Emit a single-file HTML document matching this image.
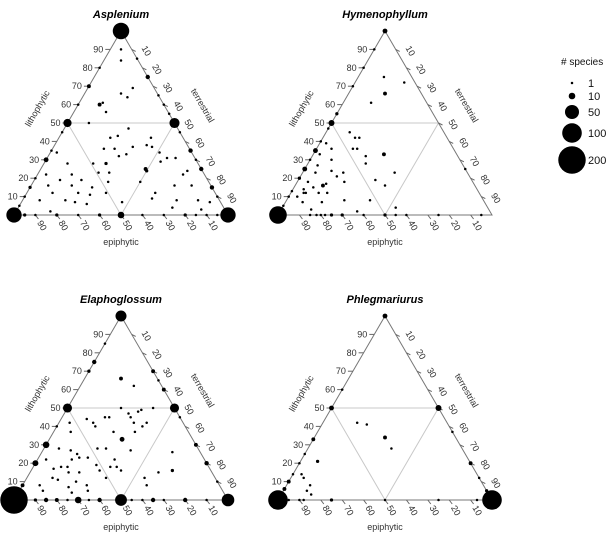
<!DOCTYPE html>
<html><head><meta charset="utf-8"><style>
body{margin:0;background:#fff}
svg{display:block;font-family:"Liberation Sans",sans-serif}
</style></head><body>
<svg id="chart" width="616" height="533" viewBox="0 0 616 533"></svg>
<script>
// data: [lithophytic %, terrestrial %, number of species]; epiphytic = 100 - lith - terr
const panelNames = ["Asplenium","Hymenophyllum","Elaphoglossum","Phlegmariurus"];
const aspleniumPoints = [[100,0,70],[0,0,60],[0,100,60],[50,0,16],[50,50,25],[0,50,10],
[90,5,1],[84,8,1],[66,17,1],[69,21,1],[64,21,1],[60,10,3],[56,15,1],[61,11,1],[50,10,1],
[47,30,1],[42,24,1],[43,27,1],[42,43,1],[37,37,1],[36,24,1],[36,29,1],[38,43,1],[37,46,1],[33,36,1],[32,33,1],
[28,23,1],[28,29,2],[23,33,1],[23,28,1],[18,35,1],[12,37,1],[7,47,1],[25,49,3],[24,50,2],[34,51,1],[29,54,1],
[31,56,1],[31,60,1],[18,50,1],[12,60,1],[16,67,1],[8,72,1],[16,75,1],[8,82,1],[7,88,1],[4,72,1],[3,86,1],[9,60,1],
[22,68,1],[24,69,1],[22,4,1],[34,3,1],[28,11,1],[22,16,1],[19,12,1],[16,19,1],[19,22,1],[12,24,1],[12,12,1],
[16,8,1],[8,20,1],[7,25,1],[11,30,1],[8,8,1],[2,16,1],[6,31,1],[15,29,1],
[0,5,2],[0,10,1],[0,20,2],[0,30,1],[0,40,2],[0,60,1],[0,70,1],[0,80,2],[0,85,1],[0,90,1],[0,95,1],
[5,0,1],[10,0,1],[15,0,2],[20,0,1],[30,0,5],[35,0,1],[45,0,1],[60,0,1],[70,0,3],[80,0,1],
[85,15,1],[75,25,4],[65,35,1],[60,40,1],[55,45,1],[45,55,1],[35,65,4],[30,70,1],[25,75,4],[15,85,4],[10,90,1]];
const hymenophyllumPoints = [[0,0,80],[100,0,5],[50,0,8],[0,50,2],
[75,12,1],[72,23,1],[66,17,3],[61,13,1],[45,11,1],[42,15,1],[42,17,1],[36,17,1],[36,19,1],[32,25,1],[28,27,1],
[33,33,3],[19,36,1],[16,42,1],[23,43,1],[8,39,1],[2,36,1],[4,53,1],[8,27,1],[18,22,1],[23,19,1],[21,17,1],
[36,7,1],[30,10,1],[24,13,1],[17,14,1],[16,13,3],[12,17,1],[7,17,1],[12,13,1],[15,9,1],[18,5,1],[23,6,1],[27,5,1],
[33,3,1],[39,3,1],[12,6,1],[7,8,1],[10,4,1],[3,14,1],[14,5,1],[12,7,1],
[5,0,1],[10,0,1],[13,0,1],[20,0,2],[25,0,5],[30,0,1],[35,0,5],[40,0,1],[47,0,1],[55,0,2],[70,0,1],[80,0,1],[90,0,1],
[0,15,1],[0,18,1],[0,20,1],[0,22,1],[0,25,2],[0,30,2],[0,40,1],[0,55,1],[0,60,1],[0,75,1],[0,95,1],[25,75,1]];
const elaphoglossumPoints = [[0,0,200],[100,0,30],[50,0,20],[50,50,20],[0,50,35],[0,100,40],[20,0,8],[30,0,10],[0,30,10],
[66,17,3],[62,25,1],[49,35,1],[48,34,1],[47,30,1],[45,32,1],[42,35,1],[42,41,1],[40,40,1],[37,38,1],[33,34,5],
[27,41,1],[37,28,1],[28,29,1],[22,36,1],[18,39,1],[16,42,1],[18,36,1],[45,20,1],[45,22,1],[42,16,1],[40,18,1],
[44,12,1],[42,5,1],[37,8,1],[28,7,1],[27,13,1],[25,17,1],[23,19,1],[23,23,1],[28,25,1],[19,29,1],[22,16,1],
[18,16,1],[15,18,1],[15,23,1],[18,13,1],[17,10,1],[22,4,1],[12,12,1],[11,15,1],[7,22,1],[4,25,1],[5,32,1],[8,30,1],
[10,24,1],[8,8,1],[5,11,1],[16,32,1],[12,37,1],[26,61,1],[16,66,2],[15,60,1],[12,55,1],[8,58,1],[50,25,1],[50,40,1],
[0,5,1],[0,10,2],[0,15,4],[0,20,3],[0,25,1],[0,35,1],[0,40,4],[0,55,1],[0,60,1],[0,65,4],[0,70,1],[0,80,4],[0,90,1],
[5,0,1],[8,0,3],[40,0,1],[70,0,2],[75,0,4],[85,0,1],
[70,30,3],[65,35,1],[60,40,3],[45,55,1],[30,70,3],[20,80,4],[10,90,1]];
const phlegmariurusPoints = [[0,0,100],[0,100,100],[100,0,5],[50,0,5],[50,50,8],[0,50,1],
[42,16,1],[41,21,1],[34,33,3],[28,39,1],[21,8,2],[14,4,1],[12,6,1],[8,11,1],[5,11,1],[3,14,1],
[3,0,1],[6,0,3],[10,0,3],[14,0,1],[20,0,1],[25,0,1],[33,0,3],[60,0,1],
[0,5,1],[0,10,1],[0,12,1],[0,25,2],[0,75,1],[0,93,1],
[37,63,1],[20,80,3],[12,88,1],[5,95,2]];
const tickValues = [10,20,30,40,50,60,70,80,90];
const legendCounts = [1,10,50,100,200];

const NS="http://www.w3.org/2000/svg";
const svg=document.getElementById('chart');
function mk(tag,attrs,parent){const e=document.createElementNS(NS,tag);for(const k in attrs)e.setAttribute(k,attrs[k]);(parent||svg).appendChild(e);return e;}
function radius(n){return Math.sqrt(n)*0.95+0.3;}

const W=214,H=184;
const panels=[{left:14,base:215,pts:aspleniumPoints},{left:278,base:215,pts:hymenophyllumPoints},
{left:14,base:500,pts:elaphoglossumPoints},{left:278,base:500,pts:phlegmariurusPoints}];

panels.forEach((p,i)=>{
  const g=mk('g',{});
  
  
  const X=(L,T)=>p.left+W*(T+L/2)/100;
  const Y=(L)=>p.base-H*L/100;
  const t=mk('text',{x:p.left+W/2,y:p.base-197,'text-anchor':'middle','font-size':'11','font-weight':'bold','font-style':'italic'},g);
  t.textContent=panelNames[i];
  
  
  const inner=mk('polygon',{points:`${X(50,0)},${Y(50)} ${X(50,50)},${Y(50)} ${X(0,50)},${Y(0)}`,fill:'none',stroke:'#c8c8c8','stroke-width':'1'},g);
  
  
  const outer=mk('polygon',{points:`${X(0,0)},${Y(0)} ${X(100,0)},${Y(100)} ${X(0,100)},${Y(0)}`,fill:'none',stroke:'#777','stroke-width':'1'},g);
  
  
  tickValues.forEach(v=>{
    let x=X(v,0),y=Y(v);
    mk('line',{x1:x,y1:y,x2:x-5,y2:y,stroke:'#666'},g);
    let tl=mk('text',{x:x-7,y:y+3,'text-anchor':'end','font-size':'9',fill:'#333'},g);
    tl.textContent=v;
    
    
    x=X(100-v,v);y=Y(100-v);
    mk('line',{x1:x,y1:y,x2:x+4,y2:y+2,stroke:'#666'},g);
    let tr=mk('text',{x:x+12,y:y+3,'text-anchor':'middle','font-size':'9',fill:'#333',transform:`rotate(60 ${x+12} ${y+3})`},g);
    tr.textContent=v;
    
    
    x=X(0,100-v);y=Y(0);
    mk('line',{x1:x,y1:y,x2:x+3,y2:y+4,stroke:'#666'},g);
    let tb=mk('text',{x:x+4,y:y+12,'text-anchor':'middle','font-size':'9',fill:'#333',transform:`rotate(60 ${x+4} ${y+12})`},g);
    tb.textContent=v;
    
    
  });
  let a=mk('text',{x:p.left+26,y:p.base-105,'text-anchor':'middle','font-size':'9',fill:'#333',transform:`rotate(-60 ${p.left+26} ${p.base-105})`},g);
  a.textContent='lithophytic';
  
  
  a=mk('text',{x:p.left+186,y:p.base-108,'text-anchor':'middle','font-size':'9',fill:'#333',transform:`rotate(60 ${p.left+186} ${p.base-108})`},g);
  a.textContent='terrestrial';
  
  
  a=mk('text',{x:p.left+W/2,y:p.base+30,'text-anchor':'middle','font-size':'9',fill:'#333'},g);
  a.textContent='epiphytic';
  
  
  p.pts.forEach(d=>{
    const c=mk('circle',{cx:X(d[0],d[1]),cy:Y(d[0]),r:radius(d[2]),fill:'#000'},g);
    
    
  });
});

const lg=mk('g',{});


const lt=mk('text',{x:561,y:65,'font-size':'10',fill:'#111'},lg);
lt.textContent='# species';


const legY=[83,96,112,133,160];
legendCounts.forEach((n,i)=>{
  const c=mk('circle',{cx:572,cy:legY[i],r:radius(n),fill:'#000'},lg);
  
  
  const tx=mk('text',{x:588,y:legY[i]+4,'font-size':'11',fill:'#111'},lg);
  tx.textContent=n;
  
  
});
</script>
</body></html>
